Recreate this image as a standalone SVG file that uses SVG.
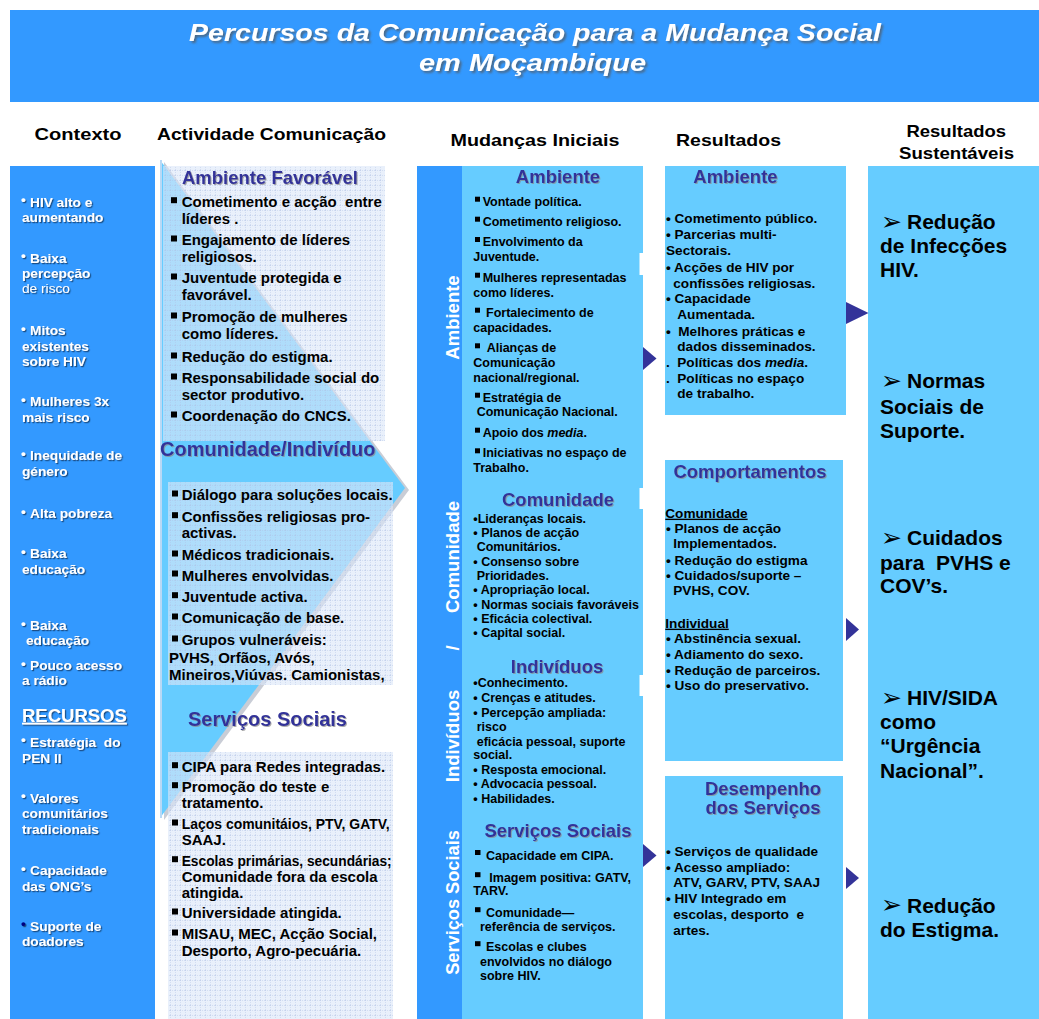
<svg xmlns="http://www.w3.org/2000/svg" width="1039" height="1019" viewBox="0 0 1039 1019">
<defs>
<style>
text { font-family: "Liberation Sans", Arial, "DejaVu Sans", sans-serif; white-space: pre; }
.ttl { font-size:23.5px; font-weight:bold; font-style:italic; fill:#fff; filter:url(#tsh); }
.hd { font-size:16.5px; font-weight:bold; fill:#000; }
.ctx { font-size:13.7px; font-weight:bold; fill:#fff; filter:url(#wsh); }
.a15 { font-size:15px; font-weight:bold; fill:#000; }
.m12 { font-size:12.5px; font-weight:bold; fill:#000; }
.r13 { font-size:13.6px; font-weight:bold; fill:#000; }
.big { font-size:21px; font-weight:bold; fill:#000; }
.arr { font-family:"DejaVu Sans", sans-serif; font-size:25px; fill:#000; }
.t18 { font-size:18.5px; font-weight:bold; fill:#333399; filter:url(#psh); }
.vt { font-size:18.5px; font-weight:bold; fill:#fff; text-anchor:middle; }
.mid { text-anchor:middle; }
.ul { text-decoration:underline; }
.sq { fill:#000; }
.tri { fill:#333399; }
.notch { fill:#fff; }
.lb { fill:#66ccff; }
.db { fill:#3399ff; }
</style>
<filter id="wsh" x="-10%" y="-30%" width="130%" height="160%">
<feDropShadow dx="1.2" dy="1.2" stdDeviation="0.7" flood-color="#10305a" flood-opacity="0.75"/>
</filter>
<filter id="tsh" x="-5%" y="-30%" width="110%" height="160%">
<feDropShadow dx="2" dy="2" stdDeviation="0.8" flood-color="#555" flood-opacity="0.7"/>
</filter>
<filter id="psh" x="-10%" y="-30%" width="130%" height="160%">
<feDropShadow dx="1" dy="1" stdDeviation="0.5" flood-color="#888" flood-opacity="0.7"/>
</filter>
<pattern id="grid" width="5" height="5" patternUnits="userSpaceOnUse">
<rect width="5" height="5" fill="#dbe6f8" fill-opacity="0.62"/>
<path d="M0 0.3H5M0.3 0V5" stroke="#aebfe3" stroke-width="0.7" stroke-opacity="0.7" stroke-dasharray="1 1"/>
</pattern>
</defs>

<rect width="1039" height="1019" fill="#fff"/>

<g id="title">
<rect x="10" y="10" width="1029" height="92" class="db"/>
<text class="ttl" x="189" y="41" textLength="692" lengthAdjust="spacingAndGlyphs">Percursos da Comunicação para a Mudança Social</text>
<text class="ttl" x="419" y="71" textLength="227" lengthAdjust="spacingAndGlyphs">em Moçambique</text>
</g>

<g id="headers">
<text class="hd" x="34.5" y="139.5" textLength="87" lengthAdjust="spacingAndGlyphs">Contexto</text>
<text class="hd" x="157" y="139.5" textLength="229" lengthAdjust="spacingAndGlyphs">Actividade Comunicação</text>
<text class="hd" x="450.5" y="145.5" textLength="169" lengthAdjust="spacingAndGlyphs">Mudanças Iniciais</text>
<text class="hd" x="676" y="145.5" textLength="105" lengthAdjust="spacingAndGlyphs">Resultados</text>
<text class="hd" x="906.5" y="136.5" textLength="99.5" lengthAdjust="spacingAndGlyphs">Resultados</text>
<text class="hd" x="899" y="158.5" textLength="115" lengthAdjust="spacingAndGlyphs">Sustentáveis</text>
</g>

<g id="contexto">
<rect x="10" y="166" width="145" height="853" class="db"/>
<text class="ctx" x="21" y="204.2">•</text><text class="ctx" x="30" y="206.7">HIV alto e</text>
<text class="ctx" x="22" y="222">aumentando</text>
<text class="ctx" x="21" y="260.2">•</text><text class="ctx" x="30" y="262.7">Baixa</text>
<text class="ctx" x="22" y="278">percepção</text>
<text class="ctx" x="22" y="293" style="font-weight:normal">de risco</text>
<text class="ctx" x="21" y="332.5">•</text><text class="ctx" x="30" y="335">Mitos</text>
<text class="ctx" x="22" y="350.5">existentes</text>
<text class="ctx" x="22" y="366">sobre HIV</text>
<text class="ctx" x="21" y="403.5">•</text><text class="ctx" x="30" y="406">Mulheres 3x</text>
<text class="ctx" x="22" y="421.7">mais risco</text>
<text class="ctx" x="21" y="457.5">•</text><text class="ctx" x="30" y="460">Inequidade de</text>
<text class="ctx" x="22" y="476">género</text>
<text class="ctx" x="21" y="515.5">•</text><text class="ctx" x="30" y="518">Alta pobreza</text>
<text class="ctx" x="21" y="555.5">•</text><text class="ctx" x="30" y="558">Baixa</text>
<text class="ctx" x="22" y="573.5">educação</text>
<text class="ctx" x="21" y="627.5">•</text><text class="ctx" x="30" y="630">Baixa</text>
<text class="ctx" x="26" y="645">educação</text>
<text class="ctx" x="21" y="667.5">•</text><text class="ctx" x="30" y="670">Pouco acesso</text>
<text class="ctx" x="22" y="685">a rádio</text>
<text class="ctx ul" x="22" y="721.7" style="font-size:18.5px">RECURSOS</text>
<text class="ctx" x="21" y="744.2">•</text><text class="ctx" x="30" y="746.7">Estratégia  do</text>
<text class="ctx" x="22" y="762.7">PEN II</text>
<text class="ctx" x="21" y="800.2">•</text><text class="ctx" x="30" y="802.7">Valores</text>
<text class="ctx" x="22" y="818.3">comunitários</text>
<text class="ctx" x="22" y="834">tradicionais</text>
<text class="ctx" x="21" y="872.5">•</text><text class="ctx" x="30" y="875">Capacidade</text>
<text class="ctx" x="22" y="890.7">das ONG’s</text>
<text class="ctx" x="21" y="928.2" style="fill:#000080">•</text><text class="ctx" x="30" y="930.7">Suporte de</text>
<text class="ctx" x="22" y="946.3">doadores</text>
</g>

<g id="actividade">
<polygon points="164,162 409,490 164,820" fill="#c9cdd6"/>
<polygon points="160,160 405,488 160,818" class="lb"/>
<line x1="161" y1="160" x2="161" y2="818" stroke="#b9d9f5" stroke-width="2"/>

<g id="ambiente-favoravel">
<rect x="163" y="166" width="222" height="275" fill="url(#grid)"/>
<text class="t18" x="182" y="184">Ambiente Favorável</text>
<rect class="sq" x="171" y="197.2" width="6" height="6"/><text class="a15" x="181.7" y="206.7">Cometimento e acção  entre</text>
<text class="a15" x="181.7" y="224">líderes .</text>
<rect class="sq" x="171" y="235.5" width="6" height="6"/><text class="a15" x="181.7" y="245">Engajamento de líderes</text>
<text class="a15" x="181.7" y="262">religiosos.</text>
<rect class="sq" x="171" y="273.5" width="6" height="6"/><text class="a15" x="181.7" y="283">Juventude protegida e</text>
<text class="a15" x="181.7" y="300">favorável.</text>
<rect class="sq" x="171" y="312.5" width="6" height="6"/><text class="a15" x="181.7" y="322">Promoção de mulheres</text>
<text class="a15" x="181.7" y="338.5">como líderes.</text>
<rect class="sq" x="171" y="352.5" width="6" height="6"/><text class="a15" x="181.7" y="362">Redução do estigma.</text>
<rect class="sq" x="171" y="373.5" width="6" height="6"/><text class="a15" x="181.7" y="383">Responsabilidade social do</text>
<text class="a15" x="181.7" y="399.5">sector produtivo.</text>
<rect class="sq" x="171" y="411.5" width="6" height="6"/><text class="a15" x="181.7" y="421">Coordenação do CNCS.</text>
</g>

<g id="comunidade-individuo">
<text class="t18" x="160" y="456" style="font-size:20px">Comunidade/Indivíduo</text>
<rect x="168" y="482" width="225" height="203" fill="url(#grid)"/>
<rect class="sq" x="172" y="490.5" width="6" height="6"/><text class="a15" x="181.7" y="500">Diálogo para soluções locais.</text>
<rect class="sq" x="172" y="512.2" width="6" height="6"/><text class="a15" x="181.7" y="521.7">Confissões religiosas pro-</text>
<text class="a15" x="181.7" y="538">activas.</text>
<rect class="sq" x="172" y="550.5" width="6" height="6"/><text class="a15" x="181.7" y="560">Médicos tradicionais.</text>
<rect class="sq" x="172" y="570.5" width="6" height="6"/><text class="a15" x="181.7" y="580.5">Mulheres envolvidas.</text>
<rect class="sq" x="172" y="592.2" width="6" height="6"/><text class="a15" x="181.7" y="601.7">Juventude activa.</text>
<rect class="sq" x="172" y="613.5" width="6" height="6"/><text class="a15" x="181.7" y="623">Comunicação de base.</text>
<rect class="sq" x="172" y="635.5" width="6" height="6"/><text class="a15" x="181.7" y="645">Grupos vulneráveis:</text>
<text class="a15" x="169" y="662.7">PVHS, Orfãos, Avós,</text>
<text class="a15" x="169" y="679.5">Mineiros,Viúvas. Camionistas,</text>
</g>

<g id="servicos-sociais-act">
<text class="t18" x="188" y="726" style="font-size:20px">Serviços Sociais</text>
<rect x="168" y="752" width="225" height="267" fill="url(#grid)"/>
<rect class="sq" x="172" y="762.2" width="6" height="6"/><text class="a15" x="181.7" y="771.7">CIPA para Redes integradas.</text>
<rect class="sq" x="172" y="782.2" width="6" height="6"/><text class="a15" x="181.7" y="791.7">Promoção do teste e</text>
<text class="a15" x="181.7" y="807.5">tratamento.</text>
<rect class="sq" x="172" y="819.5" width="6" height="6"/><text class="a15" x="181.7" y="829" textLength="208" lengthAdjust="spacingAndGlyphs">Laços comunitáios, PTV, GATV,</text>
<text class="a15" x="181.7" y="844.5">SAAJ.</text>
<rect class="sq" x="172" y="856.2" width="6" height="6"/><text class="a15" x="181.7" y="865.7" textLength="210" lengthAdjust="spacingAndGlyphs">Escolas primárias, secundárias;</text>
<text class="a15" x="181.7" y="881.7">Comunidade fora da escola</text>
<text class="a15" x="181.7" y="897.7">atingida.</text>
<rect class="sq" x="172" y="908.5" width="6" height="6"/><text class="a15" x="181.7" y="918">Universidade atingida.</text>
<rect class="sq" x="172" y="929.5" width="6" height="6"/><text class="a15" x="181.7" y="939">MISAU, MEC, Acção Social,</text>
<text class="a15" x="181.7" y="956">Desporto, Agro-pecuária.</text>
</g>
</g>

<g id="mudancas">
<rect x="417" y="166" width="45" height="853" class="db"/>
<rect x="462" y="166" width="181" height="853" class="lb"/>
<rect class="notch" x="639.5" y="253" width="4" height="22"/>
<rect class="notch" x="639.5" y="488" width="4" height="21"/>
<rect class="notch" x="639.5" y="675" width="4" height="21"/>
<text class="vt" transform="translate(459,317.5) rotate(-90)">Ambiente</text>
<text class="vt" transform="translate(459,557) rotate(-90)">Comunidade</text>
<text class="vt" transform="translate(459,648) rotate(-90)">/</text>
<text class="vt" transform="translate(459,736) rotate(-90)">Indivíduos</text>
<text class="vt" style="font-size:18.2px" transform="translate(459,902.5) rotate(-90)">Serviços Sociais</text>

<g id="mud-ambiente">
<text class="t18 mid" x="558" y="183.3">Ambiente</text>
<rect class="sq" x="475" y="196.7" width="5" height="5"/><text class="m12" x="482.7" y="205.7">Vontade política.</text>
<rect class="sq" x="475" y="216.7" width="5" height="5"/><text class="m12" x="482.7" y="225.7">Cometimento religioso.</text>
<rect class="sq" x="475" y="237" width="5" height="5"/><text class="m12" x="482.7" y="246">Envolvimento da</text>
<text class="m12" x="473.3" y="261">Juventude.</text>
<rect class="sq" x="475" y="272.7" width="5" height="5"/><text class="m12" x="482.7" y="281.7">Mulheres representadas</text>
<text class="m12" x="473.3" y="296.7">como líderes.</text>
<rect class="sq" x="475" y="307.7" width="5" height="5"/><text class="m12" x="486" y="316.7">Fortalecimento de</text>
<text class="m12" x="473.3" y="331.7">capacidades.</text>
<rect class="sq" x="475" y="343.3" width="5" height="5"/><text class="m12" x="486.7" y="352.3">Alianças de</text>
<text class="m12" x="473.3" y="366.7">Comunicação</text>
<text class="m12" x="473.3" y="381.7">nacional/regional.</text>
<rect class="sq" x="475" y="392.7" width="5" height="5"/><text class="m12" x="482.7" y="401.7">Estratégia de</text>
<text class="m12" x="476.7" y="416">Comunicação Nacional.</text>
<rect class="sq" x="475" y="427.7" width="5" height="5"/><text class="m12" x="482.7" y="436.7">Apoio dos <tspan font-style="italic">media</tspan>.</text>
<rect class="sq" x="475" y="448.3" width="5" height="5"/><text class="m12" x="482.7" y="457.3">Iniciativas no espaço de</text>
<text class="m12" x="473.3" y="471.7">Trabalho.</text>
</g>

<g id="mud-comunidade">
<text class="t18 mid" x="558" y="506">Comunidade</text>
<text class="m12" x="473.3" y="522.7">•Lideranças locais.</text>
<text class="m12" x="473.3" y="536.7">• Planos de acção</text>
<text class="m12" x="476.7" y="550.7">Comunitários.</text>
<text class="m12" x="473.3" y="565.7">• Consenso sobre</text>
<text class="m12" x="476.7" y="580">Prioridades.</text>
<text class="m12" x="473.3" y="594">• Apropriação local.</text>
<text class="m12" x="473.3" y="609">• Normas sociais favoráveis</text>
<text class="m12" x="473.3" y="622.7">• Eficácia colectival.</text>
<text class="m12" x="473.3" y="637.3">• Capital social.</text>
</g>

<g id="mud-individuos">
<text class="t18 mid" x="557" y="672.7">Indivíduos</text>
<text class="m12" x="473.3" y="686.7">•Conhecimento.</text>
<text class="m12" x="473.3" y="701.7">• Crenças e atitudes.</text>
<text class="m12" x="473.3" y="716.7">• Percepção ampliada:</text>
<text class="m12" x="476.7" y="730.7">risco</text>
<text class="m12" x="476.7" y="745.7">eficácia pessoal, suporte</text>
<text class="m12" x="473.3" y="759.3">social.</text>
<text class="m12" x="473.3" y="774">• Resposta emocional.</text>
<text class="m12" x="473.3" y="788.3">• Advocacia pessoal.</text>
<text class="m12" x="473.3" y="802.7">• Habilidades.</text>
</g>

<g id="mud-servicos">
<text class="t18 mid" x="558" y="837.3">Serviços Sociais</text>
<rect class="sq" x="475" y="850" width="5.5" height="5"/><text class="m12" x="486" y="860">Capacidade em CIPA.</text>
<rect class="sq" x="475" y="872.2" width="5.5" height="5"/><text class="m12" x="489.3" y="881.7">Imagem positiva: GATV,</text>
<text class="m12" x="473.3" y="895">TARV.</text>
<rect class="sq" x="475" y="907.2" width="5.5" height="5"/><text class="m12" x="486" y="916.7">Comunidade—</text>
<text class="m12" x="480" y="930.7">referência de serviços.</text>
<rect class="sq" x="475" y="941.2" width="5.5" height="5"/><text class="m12" x="486" y="950.7">Escolas e clubes</text>
<text class="m12" x="480" y="965.7">envolvidos no diálogo</text>
<text class="m12" x="480" y="980">sobre HIV.</text>
</g>
</g>

<g id="res-ambiente">
<rect x="665" y="166" width="181" height="249" class="lb"/>
<text class="t18" x="693.3" y="183.3">Ambiente</text>
<text class="r13" x="666" y="223.3">• Cometimento público.</text>
<text class="r13" x="666" y="239.3">• Parcerias multi-</text>
<text class="r13" x="666" y="254.8">Sectorais.</text>
<text class="r13" x="666" y="271.7">• Acções de HIV por</text>
<text class="r13" x="673.3" y="287.7">confissões religiosas.</text>
<text class="r13" x="666" y="303.3">• Capacidade</text>
<text class="r13" x="677.3" y="319.3">Aumentada.</text>
<text class="r13" x="666" y="335.7">•</text><text class="r13" x="678.3" y="335.7">Melhores práticas e</text>
<text class="r13" x="677.3" y="351">dados disseminados.</text>
<text class="r13" x="666" y="366.7">.</text><text class="r13" x="677.3" y="366.7">Políticas dos <tspan font-style="italic">media</tspan>.</text>
<text class="r13" x="666" y="382.7">.</text><text class="r13" x="677.3" y="382.7">Políticas no espaço</text>
<text class="r13" x="677.3" y="398.3">de trabalho.</text>
</g>

<g id="res-comportamentos">
<rect x="665" y="460" width="178" height="301" class="lb"/>
<text class="t18 mid" x="750" y="477.7">Comportamentos</text>
<text class="r13 ul" x="665.3" y="517.7">Comunidade</text>
<text class="r13" x="666" y="533.3">• Planos de acção</text>
<text class="r13" x="673.3" y="548.3">Implementados.</text>
<text class="r13" x="666" y="565">• Redução do estigma</text>
<text class="r13" x="666" y="580">• Cuidados/suporte –</text>
<text class="r13" x="673.3" y="595">PVHS, COV.</text>
<text class="r13 ul" x="665.3" y="627.7">Individual</text>
<text class="r13" x="666" y="643.3">• Abstinência sexual.</text>
<text class="r13" x="666" y="659">• Adiamento do sexo.</text>
<text class="r13" x="666" y="675">• Redução de parceiros.</text>
<text class="r13" x="666" y="690">• Uso do preservativo.</text>
</g>

<g id="res-desempenho">
<rect x="665" y="776" width="178" height="243" class="lb"/>
<text class="t18 mid" x="763" y="795">Desempenho</text>
<text class="t18 mid" x="763" y="814.3">dos Serviços</text>
<text class="r13" x="666" y="856">• Serviços de qualidade</text>
<text class="r13" x="666" y="871.7">• Acesso ampliado:</text>
<text class="r13" x="673.3" y="887.3">ATV, GARV, PTV, SAAJ</text>
<text class="r13" x="666" y="903.3">• HIV Integrado em</text>
<text class="r13" x="673.3" y="919">escolas, desporto  e</text>
<text class="r13" x="673.3" y="935">artes.</text>
</g>

<g id="sustentaveis">
<rect x="868" y="166" width="171" height="853" class="lb"/>
<text class="arr" x="881" y="230">➢</text><text class="big" x="907" y="229.3">Redução</text>
<text class="big" x="880" y="252.7">de Infecções</text>
<text class="big" x="880" y="276.7">HIV.</text>
<text class="arr" x="881" y="389">➢</text><text class="big" x="907" y="388.3">Normas</text>
<text class="big" x="880" y="413.5">Sociais de</text>
<text class="big" x="880" y="438.3">Suporte.</text>
<text class="arr" x="881" y="545.7">➢</text><text class="big" x="907" y="545">Cuidados</text>
<text class="big" x="880" y="570">para  PVHS e</text>
<text class="big" x="880" y="593.3">COV’s.</text>
<text class="arr" x="881" y="705.7">➢</text><text class="big" x="907" y="705">HIV/SIDA</text>
<text class="big" x="880" y="728.5">como</text>
<text class="big" x="880" y="753.3">“Urgência</text>
<text class="big" x="880" y="778.3">Nacional”.</text>
<text class="arr" x="881" y="913.4">➢</text><text class="big" x="907" y="912.7">Redução</text>
<text class="big" x="880" y="936.7">do Estigma.</text>
</g>

<g id="connectors">
<polygon class="tri" points="643,347 656.5,358.5 643,370"/>
<polygon class="tri" points="643,844 656.5,855.5 643,867"/>
<polygon class="tri" points="846,302 868.5,313 846,324"/>
<polygon class="tri" points="846,618 859,629.5 846,641"/>
<polygon class="tri" points="846,867 859,878 846,889"/>
</g>
</svg>
